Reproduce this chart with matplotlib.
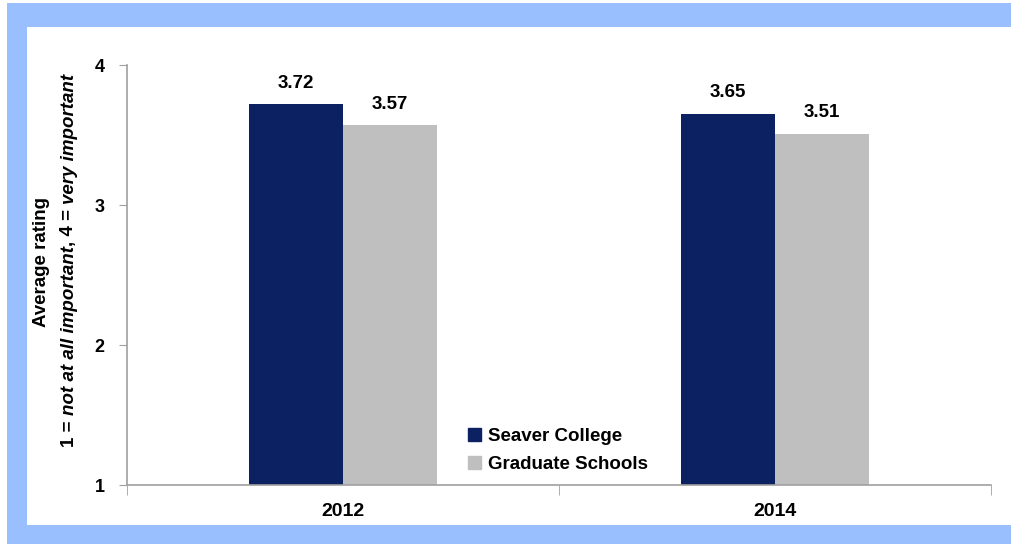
import matplotlib
matplotlib.use("Agg")
import matplotlib.pyplot as plt
import numpy as np
from matplotlib.patches import Rectangle, Patch

# data
years = ["2012", "2014"]
seaver = [3.72, 3.65]
graduate = [3.57, 3.51]
series_names = ["Seaver College", "Graduate Schools"]
yticks = [1, 2, 3, 4]
ylabel_top = "Average rating"
ylabel_parts = [("1 = ", "normal"), ("not at all important", "italic"),
                (", 4 = ", "normal"), ("very important", "italic")]

NAVY = "#0B2161"
GRAY = "#BFBFBF"
FRAME = "#99BFFF"

plt.rcParams["font.family"] = ["Liberation Sans", "DejaVu Sans"]

fig = plt.figure(figsize=(10.11, 5.44), dpi=100)
W, H = 1011, 544

# light blue frame around the chart area
def frame_rect(x0, y0, x1, y1):
    fig.patches.append(Rectangle((x0 / W, 1 - y1 / H), (x1 - x0) / W, (y1 - y0) / H,
                                 transform=fig.transFigure, color=FRAME, lw=0, zorder=0))

frame_rect(7, 3, W, 27)
frame_rect(7, 27, 27, 525)
frame_rect(7, 525, W, H)

ax = fig.add_axes([127 / W, 1 - 485 / H, (991 - 127) / W, (485 - 65) / H])
x = np.arange(len(years))
bw = 0.218
b1 = ax.bar(x - bw / 2, seaver, bw, color=NAVY, label=series_names[0], zorder=2)
b2 = ax.bar(x + bw / 2, graduate, bw, color=GRAY, label=series_names[1], zorder=2)

for bars, vals in [(b1, seaver), (b2, graduate)]:
    for r, v in zip(bars, vals):
        ax.text(r.get_x() + r.get_width() / 2, v + 0.09, f"{v:.2f}",
                ha="center", va="bottom", fontsize=13.5, fontweight="bold")

ax.set_xlim(-0.5, len(years) - 0.5)
ax.set_ylim(1, 4)
ax.set_yticks(yticks)
ax.set_yticklabels([str(t) for t in yticks], fontsize=13, fontweight="bold")
ax.set_xticks(x)
ax.set_xticklabels(years, fontsize=14, fontweight="bold")
ax.set_xticks(np.arange(-0.5, len(years)), minor=True)
ax.tick_params(axis="x", which="major", length=0, pad=13)
ax.tick_params(axis="x", which="minor", length=7, color="#A0A0A0", direction="out")
ax.tick_params(axis="y", length=6, color="#A0A0A0", pad=10)

for s in ["top", "right"]:
    ax.spines[s].set_visible(False)
for s in ["left", "bottom"]:
    ax.spines[s].set_color("#A0A0A0")
    ax.spines[s].set_linewidth(1.2)

# two-line y label, second line mixes bold and bold-italic
fig.text(42 / W, 1 - 262 / H, ylabel_top, rotation=90, ha="center", va="center",
         fontsize=13.5, fontweight="bold")

fig.canvas.draw()
renderer = fig.canvas.get_renderer()
pieces = []
for s, style in ylabel_parts:
    t = fig.text(0, 0, s, rotation=90, ha="center", va="bottom", fontsize=13.5,
                 fontweight="bold", fontstyle=style)
    pieces.append(t)
heights = [t.get_window_extent(renderer).height for t in pieces]
total = sum(heights)
ystart = (H - 260) - total / 2
for t, h in zip(pieces, heights):
    t.set_position((69 / W, ystart / H))
    ystart += h

handles = [Patch(color=NAVY), Patch(color=GRAY)]
ax.legend(handles, series_names, loc="lower left", bbox_to_anchor=(0.375, -0.012),
          frameon=False, handlelength=0.7, handleheight=0.7,
          handletextpad=0.4, labelspacing=0.6, prop={"weight": "bold", "size": 13.5})

fig.savefig("out.png", dpi=100, facecolor="white")
